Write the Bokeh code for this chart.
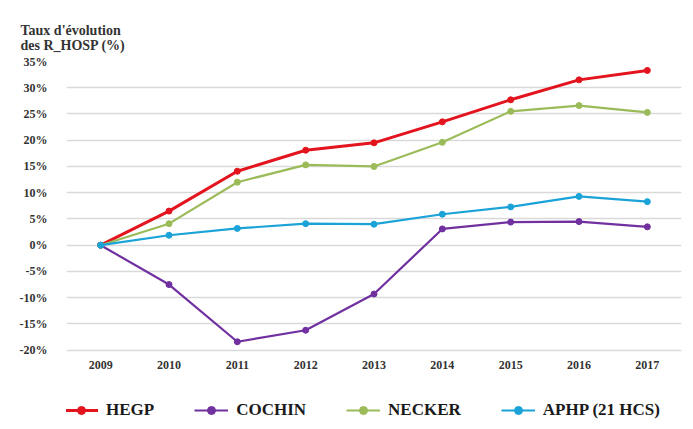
from bokeh.plotting import figure
from bokeh.models import (Legend, LegendItem, FixedTicker, Range1d, Title,
                          CustomJSTickFormatter)
from bokeh.core.properties import value
from bokeh.embed import file_html
from bokeh.resources import INLINE

years = ["2009", "2010", "2011", "2012", "2013", "2014", "2015", "2016", "2017"]
hegp = [0, 6.5, 14.1, 18.1, 19.5, 23.5, 27.7, 31.5, 33.3]
cochin = [0, -7.5, -18.4, -16.2, -9.3, 3.1, 4.4, 4.5, 3.5]
necker = [0, 4.1, 12.0, 15.3, 15.0, 19.6, 25.5, 26.6, 25.3]
aphp = [0, 1.9, 3.2, 4.1, 4.0, 5.9, 7.3, 9.3, 8.3]
series_names = ["HEGP", "COCHIN", "NECKER", "APHP (21 HCS)"]
y_ticks = [-20, -15, -10, -5, 0, 5, 10, 15, 20, 25, 30, 35]
title_lines = ["Taux d'évolution", "des R_HOSP (%)"]

colors = ["#e3141d", "#7030a0", "#9bbb59", "#1ba3d8"]
widths = [3, 2.2, 2.2, 2.2]

FONT = "Liberation Serif"
YEAR_LABEL_Y = -22.9   # position of the category labels under the lowest gridline

p = figure(width=684, height=420, x_range=years, y_range=Range1d(-33.4, 35),
           output_backend="svg", toolbar_location=None, x_axis_location=None,
           min_border_left=66, min_border_right=3, min_border_top=61, min_border_bottom=0)
p.title = Title(text="\n".join(title_lines), align="left", offset=-46, standoff=17,
                text_font=FONT, text_font_style="bold", text_font_size="14px",
                text_color="#333333")
p.outline_line_color = None
p.xgrid.grid_line_color = None
p.ygrid.grid_line_color = "#d9d9d9"
p.ygrid.grid_line_width = 1.5

p.yaxis.ticker = FixedTicker(ticks=y_ticks)
p.yaxis.formatter = CustomJSTickFormatter(code="return tick + '%';")
ax = p.yaxis[0]
ax.axis_line_color = None
ax.major_tick_line_color = None
ax.minor_tick_line_color = None
ax.major_label_text_font = FONT
ax.major_label_text_font_style = "bold"
ax.major_label_text_color = "#333333"
ax.major_label_text_font_size = "12px"
ax.major_label_standoff = 13

# category (year) labels
p.text(x=years, y=[YEAR_LABEL_Y] * len(years), text=years,
       text_font=value(FONT), text_font_style="bold", text_font_size="12px",
       text_color="#333333", text_align="center", text_baseline="middle")

items = []
for name, vals, c, w in zip(series_names, [hegp, cochin, necker, aphp], colors, widths):
    r1 = p.line(years, vals, line_color=c, line_width=w)
    r2 = p.scatter(years, vals, marker="circle", size=6, fill_color=c, line_color=c)
    items.append(LegendItem(label=name, renderers=[r1, r2]))

legend = Legend(items=items, orientation="horizontal", location=(-2, 0),
                border_line_color=None, background_fill_alpha=0,
                glyph_width=34, label_standoff=8, spacing=40, padding=0, margin=0,
                label_text_font=FONT, label_text_font_style="bold",
                label_text_font_size="17px", label_text_color="#1a1a1a")
p.add_layout(legend, "center")

open("out.html", "w").write(file_html(p, INLINE))
